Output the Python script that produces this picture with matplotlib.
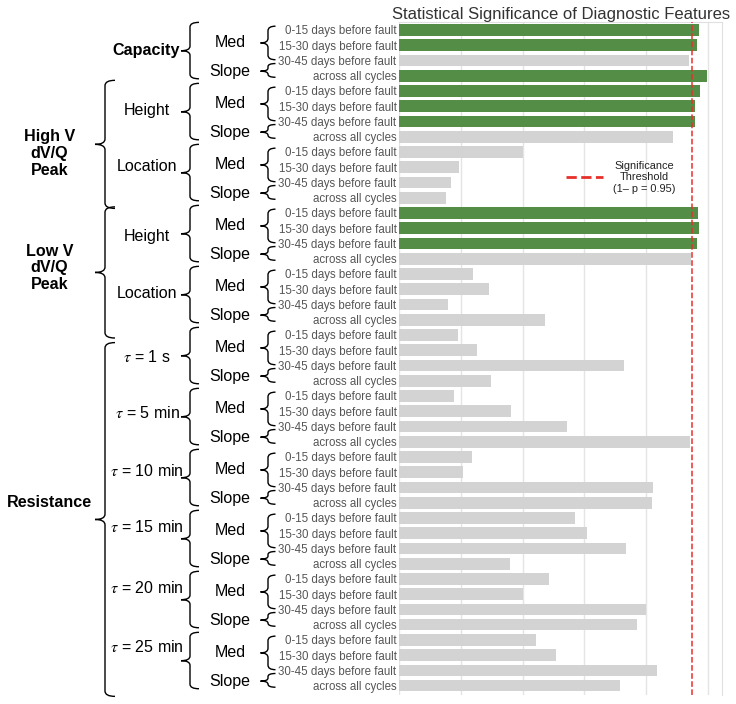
import numpy as np
import matplotlib
matplotlib.use("Agg")
import matplotlib.pyplot as plt
import matplotlib.transforms as mtransforms
from matplotlib.path import Path
from matplotlib.patches import PathPatch
from matplotlib.lines import Line2D

plt.rcParams["font.family"] = ["Liberation Sans", "DejaVu Sans"]
plt.rcParams["mathtext.fontset"] = "stix"

# ---------- data ----------
windows = ["0-15 days before fault", "15-30 days before fault",
           "30-45 days before fault", "across all cycles"]
stats = ["Med", "Slope"]
features = ["Capacity", "Height", "Location", "Height", "Location",
            r"$\tau$ = 1 s", r"$\tau$ = 5 min", r"$\tau$ = 10 min",
            r"$\tau$ = 15 min", r"$\tau$ = 20 min", r"$\tau$ = 25 min"]
families = ["High V\ndV/Q\nPeak", "Low V\ndV/Q\nPeak", "Resistance"]
family_members = [[1, 2], [3, 4], [5, 6, 7, 8, 9, 10]]
# 1 - p for every feature x window
significance = [
    0.971, 0.965, 0.941, 0.997,   # capacity
    0.976, 0.959, 0.958, 0.888,   # high V height
    0.402, 0.193, 0.168, 0.150,   # high V location
    0.969, 0.971, 0.965, 0.947,   # low V height
    0.240, 0.291, 0.158, 0.472,   # low V location
    0.189, 0.252, 0.728, 0.299,   # tau 1 s
    0.176, 0.364, 0.544, 0.943,   # tau 5 min
    0.237, 0.207, 0.824, 0.821,   # tau 10 min
    0.571, 0.608, 0.735, 0.358,   # tau 15 min
    0.487, 0.401, 0.802, 0.770,   # tau 20 min
    0.442, 0.507, 0.837, 0.717,   # tau 25 min
]
threshold = 0.95

GREEN = "#548e46"
GREY = "#d3d3d3"
RED = "#e8302a"

labels = windows * len(features)
y = np.arange(len(significance))
colors = [GREEN if v > threshold else GREY for v in significance]

W, H = 736, 704
fig = plt.figure(figsize=(W / 100, H / 100), dpi=100)
ax = fig.add_axes([399.3 / W, 9 / H, 323 / W, 673.3 / H])

ax.barh(y, significance, height=0.76, color=colors, linewidth=0, zorder=2)
ax.axvline(threshold, color=RED, ls="--", lw=1.1, zorder=3)

ax.set_xlim(0, 1.048)
ax.set_ylim(43.61, -0.544)
ax.set_xticks(np.arange(0, 1.01, 0.2))
ax.set_xticklabels([])
ax.tick_params(axis="x", length=0)
ax.set_yticks(y)
ax.set_yticklabels(labels, fontsize=8.3, color="#555555")
ax.tick_params(axis="y", length=0, pad=2)
ax.grid(axis="x", color="#e4e4e4", lw=1, zorder=0)
ax.set_axisbelow(True)
for side in ["left", "bottom"]:
    ax.spines[side].set_visible(False)
for side in ["top", "right"]:
    ax.spines[side].set_color("#e0e0e0")
ax.set_title("Statistical Significance of Diagnostic Features",
             fontsize=12, color="#333333", pad=2)

leg = ax.legend(handles=[Line2D([], [], color=RED, ls="--", lw=2)],
                labels=["Significance\nThreshold\n(1\u2013 p = 0.95)"],
                frameon=False, loc="center", bbox_to_anchor=(0.686, 0.769),
                fontsize=7.9, handlelength=3.4, handletextpad=0.9)
for t in leg.get_texts():
    t.set_multialignment("center")
    t.set_color("#222222")

# ---------- brace annotations (x in figure pixels, y in bar units) ----------
blend = mtransforms.blended_transform_factory(fig.transFigure, ax.transData)


def brace(xp, y0, y1, ytip, w, r=0.3):
    x, dx = xp / W, w / W
    r = min(r, (y1 - y0) / 4)
    verts = [(x + dx, y0), (x, y0), (x, y0 + r),
             (x, ytip - r), (x, ytip), (x - dx, ytip),
             (x, ytip), (x, ytip + r),
             (x, y1 - r), (x, y1), (x + dx, y1)]
    codes = [Path.MOVETO, Path.CURVE3, Path.CURVE3,
             Path.LINETO, Path.CURVE3, Path.CURVE3,
             Path.CURVE3, Path.CURVE3,
             Path.LINETO, Path.CURVE3, Path.CURVE3]
    p = PathPatch(Path(verts, codes), transform=blend, fill=False,
                  lw=1.0, color="black", clip_on=False)
    fig.add_artist(p)


def label(xp, yv, s, ha="center", bold=False, size=11.5):
    fig.text(xp / W, yv, s, transform=blend, ha=ha, va="center",
             fontsize=size, fontweight="bold" if bold else "normal",
             linespacing=1.15)


feature_text_y = [1.36, 1.25, 0.96, 1.57, 1.25, 1.46, 1.14, 0.9, 0.61, 0.61, 0.44]
for k, name in enumerate(features):
    g = 4 * k
    # Med / Slope braces
    brace(268, g - 0.25, g + 1.95, g + 0.85, 7.5)
    brace(268, g + 2.2, g + 3.1, g + 2.7, 7.5, r=0.2)
    label(230, g + 0.8, stats[0])
    label(230, g + 2.7, stats[1])
    # feature brace
    brace(190, g - 0.5, g + 3.2, g + 1.36, 9)
    if k == 0:
        label(180, g + feature_text_y[k], name, ha="right", bold=True, size=11.6)
    else:
        label(147, g + feature_text_y[k], name)

family_span = [(3.3, 11.7), (11.6, 20.2), (20.5, 43.7)]
family_text_y = [8.09, 15.6, 31.0]
for name, (a, b), ty in zip(families, family_span, family_text_y):
    brace(105, a, b, (a + b) / 2, 10, r=0.35)
    label(49.3, ty, name, bold=True, size=11.6)

fig.savefig("out.png", dpi=100)
